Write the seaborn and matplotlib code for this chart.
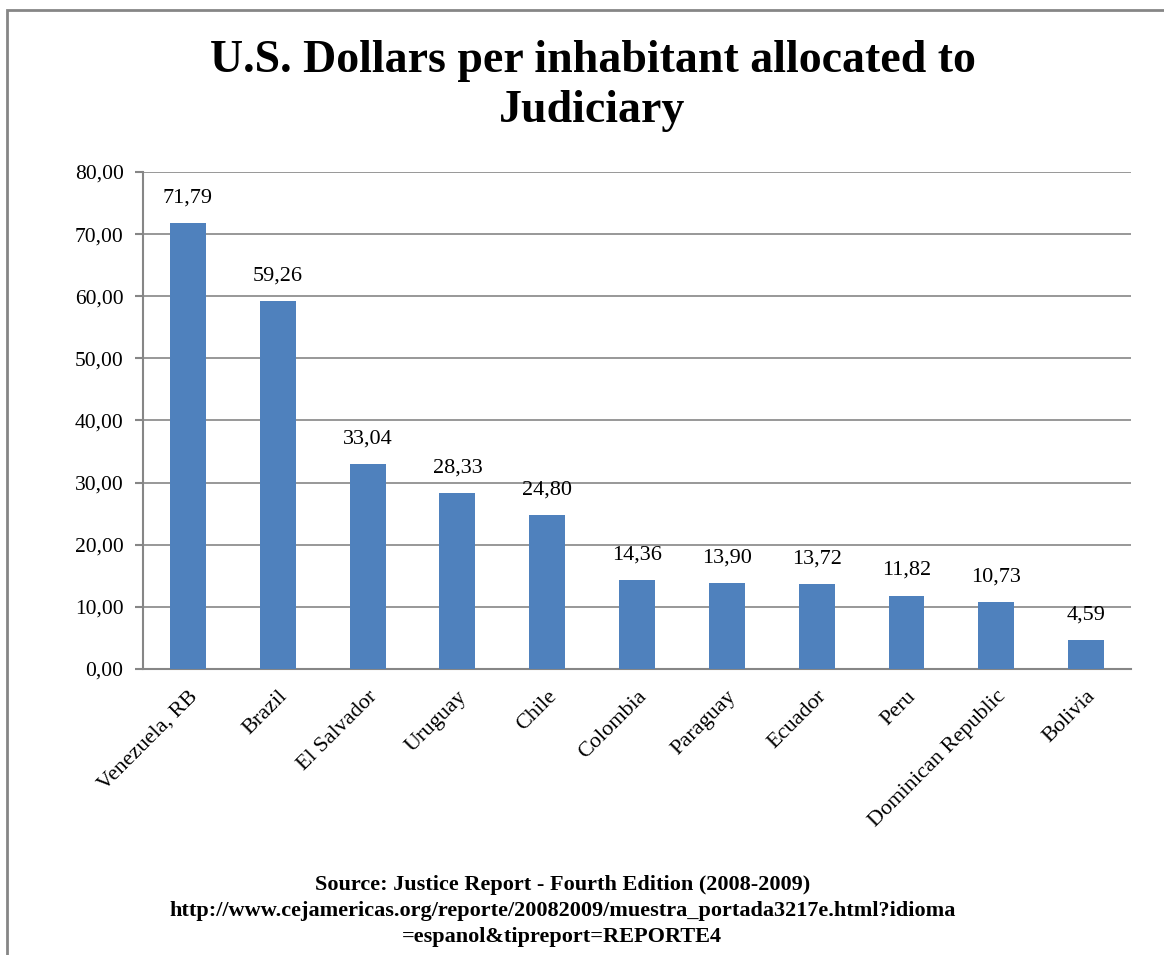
import numpy as np
import pandas as pd
import seaborn as sns
import matplotlib.pyplot as plt
from matplotlib.patches import Rectangle

countries = ['Venezuela, RB', 'Brazil', 'El Salvador', 'Uruguay', 'Chile', 'Colombia',
             'Paraguay', 'Ecuador', 'Peru', 'Dominican Republic', 'Bolivia']
dollars = [71.79, 59.26, 33.04, 28.33, 24.80, 14.36, 13.90, 13.72, 11.82, 10.73, 4.59]
yticks = [0, 10, 20, 30, 40, 50, 60, 70, 80]

sns.set_style('white')
plt.rcParams['font.family'] = ['Liberation Serif', 'DejaVu Serif']
plt.rcParams['text.color'] = 'black'
plt.rcParams['xtick.color'] = 'black'
plt.rcParams['ytick.color'] = 'black'

df = pd.DataFrame({'country': countries, 'value': dollars})

fig = plt.figure(figsize=(11.64, 9.55), dpi=100)
ax = fig.add_axes([0.1229, 0.2995, 0.8488, 0.5204])

sns.barplot(data=df, x='country', y='value', color='#4F81BD', saturation=1,
            width=0.4, linewidth=0, ax=ax, zorder=3)

grid_c = '#868686'
ax.set_ylim(0, 80)
ax.set_xlim(-0.5, len(countries) - 0.5)
ax.set_yticks(yticks)
ax.yaxis.set_major_formatter(plt.FuncFormatter(lambda v, p: ('%.2f' % v).replace('.', ',')))
ax.grid(axis='y', color=grid_c, linewidth=1.2, zorder=0)
ax.set_axisbelow(True)
for s in ['top', 'right']:
    ax.spines[s].set_visible(False)
for s in ['left', 'bottom']:
    ax.spines[s].set_color(grid_c)
    ax.spines[s].set_linewidth(1.5)

# ticks sit between the categories
ax.set_xticks(np.arange(len(countries)))
ax.set_xticklabels(countries, rotation=45, ha='right', rotation_mode='anchor', fontsize=16)
ax.set_xticks(np.arange(len(countries) + 1) - 0.5, minor=True)
ax.tick_params(axis='x', which='major', length=0, pad=13)
ax.tick_params(axis='x', which='minor', length=7, color=grid_c, width=1.5)
ax.tick_params(axis='y', length=6, color=grid_c, width=1.5, labelsize=15.5, pad=8, left=True)
ax.set_xlabel('')
ax.set_ylabel('')

for i, v in enumerate(dollars):
    ax.text(i, v + 2.5, ('%.2f' % v).replace('.', ','), ha='center', va='bottom', fontsize=16)

fig.text(0.509, 0.958, 'U.S. Dollars per inhabitant allocated to\nJudiciary', ha='center', va='top',
         fontsize=33, fontweight='bold', linespacing=1.25)

fig.text(0.483, 0.084, 'Source: Justice Report - Fourth Edition (2008-2009)\n'
         'http://www.cejamericas.org/reporte/20082009/muestra_portada3217e.html?idioma\n'
         '=espanol&tipreport=REPORTE4', ha='center', va='top', fontsize=16,
         fontweight='bold', linespacing=1.42)

fig.add_artist(Rectangle((0.006, -0.2), 1.2, 1.1895, transform=fig.transFigure,
                         fill=False, edgecolor=grid_c, linewidth=2, clip_on=False))

fig.savefig('out.png', dpi=100)
